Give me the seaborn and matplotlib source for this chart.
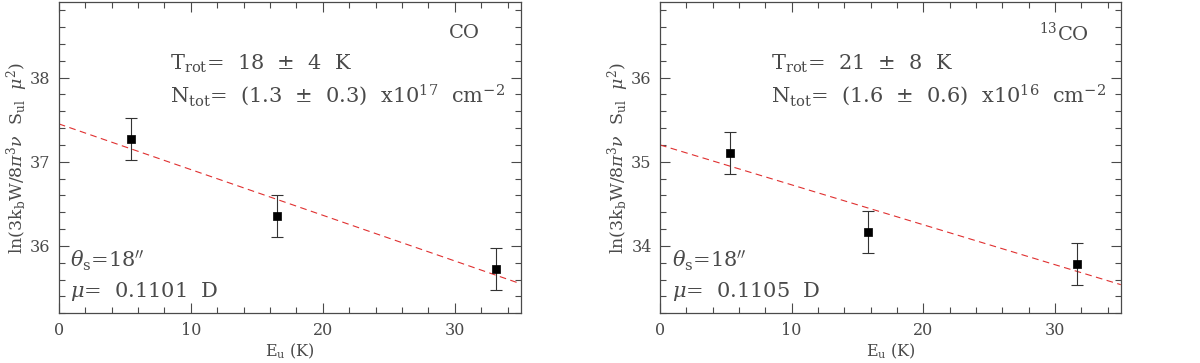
import numpy as np
import pandas as pd
import matplotlib
matplotlib.use("Agg")
import matplotlib.pyplot as plt
import seaborn as sns
from matplotlib.ticker import MultipleLocator

# rotational diagram points
eu_co = [5.5, 16.5, 33.1]
ln_co = [37.27, 36.36, 35.73]
err_co = [0.25, 0.25, 0.25]

eu_13co = [5.3, 15.8, 31.7]
ln_13co = [35.10, 34.17, 33.79]
err_13co = [0.25, 0.25, 0.25]

# fitted lines, value at the two ends of the x range
fit_x = [0, 35]
fit_co = [37.45, 35.55]
fit_13co = [35.20, 33.54]

sns.set_style("ticks")
plt.rcParams["font.family"] = ["DejaVu Serif"]
plt.rcParams["mathtext.fontset"] = "dejavuserif"

grey = "#4a4a4a"

fig = plt.figure(figsize=(12, 3.63), dpi=100)
ax1 = fig.add_axes([0.049, 0.137, 0.385, 0.858])
ax2 = fig.add_axes([0.550, 0.137, 0.384, 0.858])

panels = [
    (ax1, eu_co, ln_co, err_co, fit_co, (35.2, 38.9), "CO", 0.911,
     r"T$_{\rm rot}$=  18  $\pm$  4  K",
     r"N$_{\rm tot}$=  (1.3  $\pm$  0.3)  x10$^{17}$  cm$^{-2}$",
     r"$\mu$=  0.1101  D"),
    (ax2, eu_13co, ln_13co, err_13co, fit_13co, (33.2, 36.9), r"$^{13}$CO", 0.93,
     r"T$_{\rm rot}$=  21  $\pm$  8  K",
     r"N$_{\rm tot}$=  (1.6  $\pm$  0.6)  x10$^{16}$  cm$^{-2}$",
     r"$\mu$=  0.1105  D"),
]

for ax, x, y, e, fit, ylim, mol, molx, trot, ntot, mu in panels:
    df = pd.DataFrame({"Eu": x, "lnN": y})
    ax.errorbar(x, y, yerr=e, fmt="none", ecolor="#333333", elinewidth=0.8,
                capsize=4, capthick=0.8, zorder=2)
    sns.scatterplot(data=df, x="Eu", y="lnN", marker="s", color="black",
                    s=40, edgecolor="black", ax=ax, zorder=3)
    sns.lineplot(x=fit_x, y=fit, ax=ax, color="#e03030", linestyle=(0, (6, 4)),
                 linewidth=0.8, zorder=1)

    ax.set_xlim(0, 35)
    ax.set_ylim(*ylim)
    ax.xaxis.set_major_locator(MultipleLocator(10))
    ax.xaxis.set_minor_locator(MultipleLocator(2))
    ax.yaxis.set_major_locator(MultipleLocator(1))
    ax.yaxis.set_minor_locator(MultipleLocator(0.2))
    ax.tick_params(which="both", direction="in", top=True, right=True,
                   colors=grey, labelsize=11.5, labelcolor=grey)
    ax.tick_params(which="major", length=7, width=0.8, pad=6)
    ax.tick_params(which="minor", length=4, width=0.8)
    for s in ax.spines.values():
        s.set_color(grey)
        s.set_linewidth(0.9)

    ax.set_xlabel(r"E$_{\rm u}$ (K)", fontsize=11.5, color=grey, labelpad=2)
    ax.set_ylabel(r"ln(3k$_{\rm b}$W/8$\pi^3\nu$  S$_{\rm ul}$  $\mu^2$)",
                  fontsize=12.5, color=grey, labelpad=0)

    ax.text(molx, 0.90, mol, transform=ax.transAxes, fontsize=14, color=grey,
            ha="right", va="center")
    ax.text(0.24, 0.80, trot, transform=ax.transAxes, fontsize=15, color=grey,
            ha="left", va="center")
    ax.text(0.24, 0.70, ntot, transform=ax.transAxes, fontsize=15, color=grey,
            ha="left", va="center")
    ax.text(0.025, 0.17, r"$\theta_{\rm s}$=18$''$", transform=ax.transAxes,
            fontsize=15, color=grey, ha="left", va="center")
    ax.text(0.025, 0.07, mu, transform=ax.transAxes, fontsize=15, color=grey,
            ha="left", va="center")
    if ax.get_legend():
        ax.get_legend().remove()

fig.savefig("out.png", dpi=100)
